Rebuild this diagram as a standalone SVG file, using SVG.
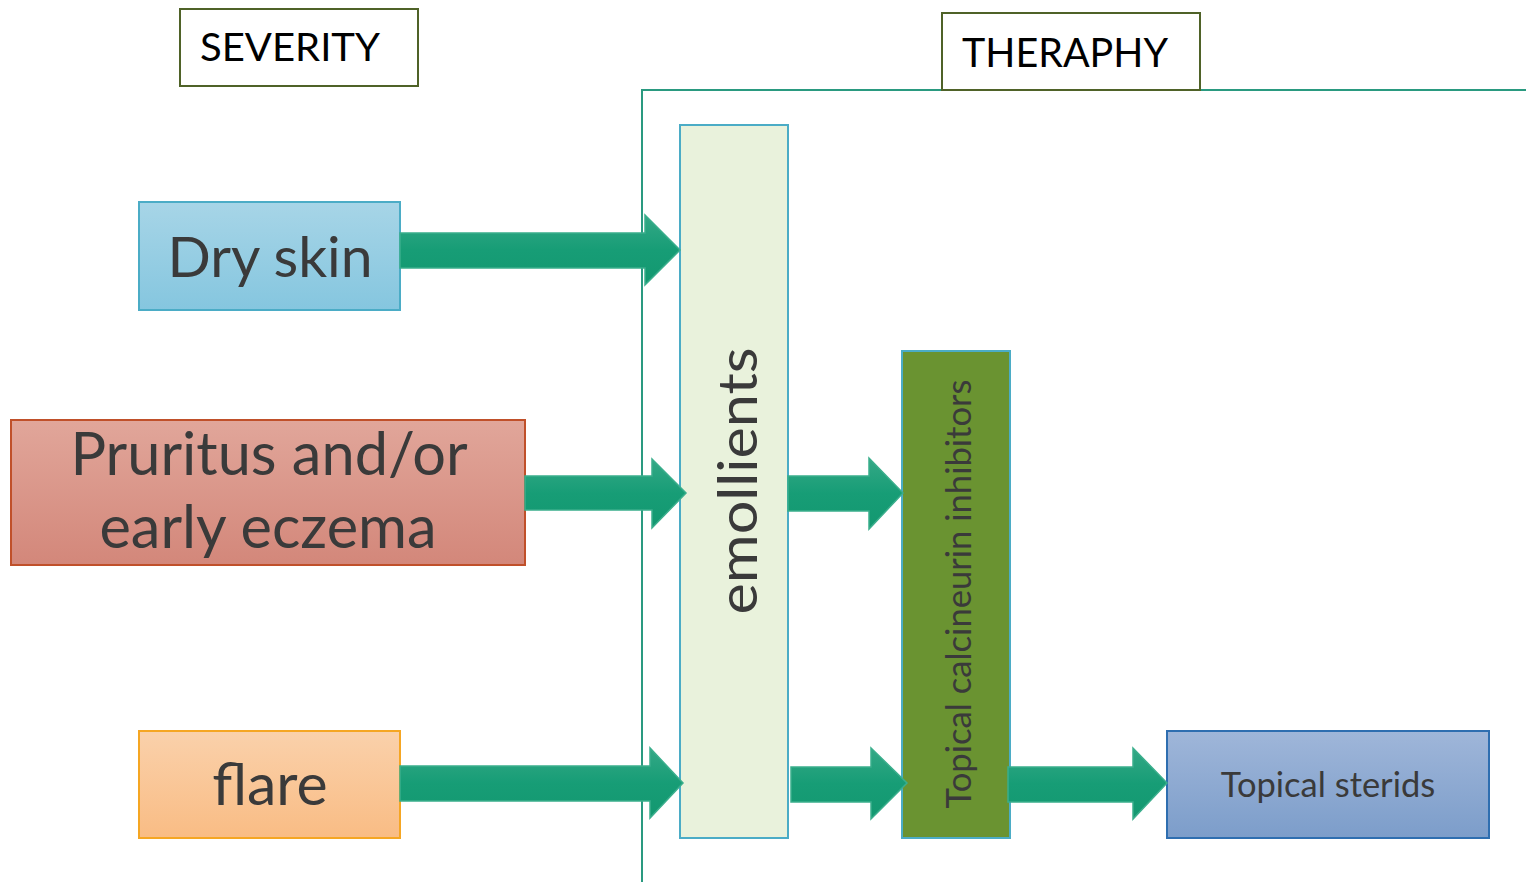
<svg xmlns="http://www.w3.org/2000/svg" width="1526" height="882" viewBox="0 0 1526 882">
  <style>
    .lbl { font-family: Lato, "Open Sans", sans-serif; fill: #3a3a3a; text-anchor: middle; }
    .hdr { font-family: Lato, "Open Sans", sans-serif; fill: #000; }
    .hbox { fill: #fff; stroke: #4f6228; stroke-width: 2; }
    .arrow { fill: url(#gArrow); stroke: #3aae8c; stroke-width: 1.5; stroke-linejoin: miter; }
  </style>
  <defs>
    <linearGradient id="gDry" x1="0" y1="0" x2="0" y2="1">
      <stop offset="0" stop-color="#a7d5e7"/>
      <stop offset="1" stop-color="#85c6df"/>
    </linearGradient>
    <linearGradient id="gPru" x1="0" y1="0" x2="0" y2="1">
      <stop offset="0" stop-color="#e1a69a"/>
      <stop offset="1" stop-color="#d3877a"/>
    </linearGradient>
    <linearGradient id="gFlare" x1="0" y1="0" x2="0" y2="1">
      <stop offset="0" stop-color="#fad1ab"/>
      <stop offset="1" stop-color="#f9bc84"/>
    </linearGradient>
    <linearGradient id="gSter" x1="0" y1="0" x2="0" y2="1">
      <stop offset="0" stop-color="#9fb6d9"/>
      <stop offset="1" stop-color="#7c9dca"/>
    </linearGradient>
    <linearGradient id="gArrow" x1="0" y1="0" x2="0" y2="1">
      <stop offset="0" stop-color="#34a886"/>
      <stop offset="0.5" stop-color="#179d76"/>
      <stop offset="1" stop-color="#139870"/>
    </linearGradient>
  </defs>

  <!-- column headers -->
  <g id="severity-header">
    <rect class="hbox" x="180" y="9" width="238" height="77"/>
    <text class="hdr" x="200" y="61" font-size="38" textLength="180" lengthAdjust="spacingAndGlyphs">SEVERITY</text>
  </g>
  <g id="therapy-frame">
    <polyline points="642,882 642,90 1526,90" fill="none" stroke="#2a9a80" stroke-width="2"/>
  </g>
  <g id="therapy-header">
    <rect class="hbox" x="942" y="13" width="258" height="77"/>
    <text class="hdr" x="962" y="67" font-size="41" textLength="206" lengthAdjust="spacingAndGlyphs">THERAPHY</text>
  </g>

  <!-- severity levels -->
  <g id="dry-skin">
    <rect x="139" y="202" width="261" height="108" fill="url(#gDry)" stroke="#4bacc6" stroke-width="2"/>
    <text class="lbl" x="270" y="277" font-size="57">Dry skin</text>
  </g>
  <g id="pruritus">
    <rect x="11" y="420" width="514" height="145" fill="url(#gPru)" stroke="#c0502a" stroke-width="2"/>
    <text class="lbl" x="269" y="475" font-size="59.5">Pruritus and/or</text>
    <text class="lbl" x="268" y="548" font-size="59.5">early eczema</text>
  </g>
  <g id="flare">
    <rect x="139" y="731" width="261" height="107" fill="url(#gFlare)" stroke="#f5a623" stroke-width="2"/>
    <text class="lbl" x="270" y="805" font-size="59">flare</text>
  </g>

  <!-- therapies -->
  <g id="emollients">
    <rect x="680" y="125" width="108" height="713" fill="#e9f2dc" stroke="#4bacc6" stroke-width="2"/>
    <text class="lbl" transform="translate(757,481) rotate(-90)" font-size="55" textLength="267" lengthAdjust="spacingAndGlyphs">emollients</text>
  </g>
  <g id="calcineurin">
    <rect x="902" y="351" width="108" height="487" fill="#6a9331" stroke="#4bacc6" stroke-width="2"/>
    <text class="lbl" transform="translate(971,594) rotate(-90)" font-size="34.6">Topical calcineurin inhibitors</text>
  </g>
  <g id="steroids">
    <rect x="1167" y="731" width="322" height="107" fill="url(#gSter)" stroke="#2e6eb0" stroke-width="2"/>
    <text class="lbl" x="1328" y="797" font-size="34.5">Topical sterids</text>
  </g>

  <!-- block arrows -->
  <g id="connectors">
    <polygon class="arrow" points="400,233 645,233 645,215 680,250 645,285 645,268 400,268"/>
    <polygon class="arrow" points="525,476 652,476 652,459 686,493 652,528 652,510 525,510"/>
    <polygon class="arrow" points="400,766 650,766 650,748 683,783 650,818 650,801 400,801"/>
    <polygon class="arrow" points="788,476 869,476 869,458 903,493 869,529 869,511 788,511"/>
    <polygon class="arrow" points="791,767 871,767 871,748 907,783 871,819 871,802 791,802"/>
    <polygon class="arrow" points="1008,767 1133,767 1133,748 1167,783 1133,819 1133,802 1008,802"/>
  </g>
</svg>
